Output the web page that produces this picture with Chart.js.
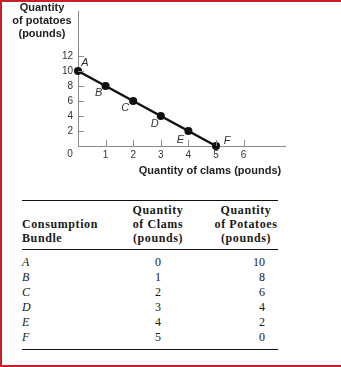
<!DOCTYPE html>
<html>
<head>
<meta charset="utf-8">
<script src="https://cdn.jsdelivr.net/npm/chart.js@4"></script>
<style>
  html, body { margin: 0; padding: 0; background: #fff; }
  body { width: 341px; height: 367px; position: relative; overflow: hidden; }
  #frame {
    position: absolute; left: 0; top: 0; width: 341px; height: 367px;
    box-sizing: border-box;
    border-top: 2px solid #c8202a; border-left: 2px solid #c8202a; border-bottom: 2px solid #c8202a;
    pointer-events: none; z-index: 2;
  }
  #grafico { position: absolute; left: 0; top: 0; }
  #tabela {
    position: absolute; left: 22px; top: 200px; width: 256px;
    border-collapse: collapse; table-layout: fixed;
    font-family: "Liberation Serif", "DejaVu Serif", serif; font-size: 12px; color: #1a1a1a;
    border-top: 1px solid #111; border-bottom: 1px solid #111;
  }
  #tabela th {
    font-weight: bold; line-height: 14px; letter-spacing: 0.6px; white-space: nowrap;
    padding: 2px 0 4px 0; border-bottom: 1px solid #111; vertical-align: bottom;
  }
  #tabela td { line-height: 15px; padding: 0; }
  #tabela tbody tr:first-child td { padding-top: 5px; }
  #tabela tbody tr:last-child td { padding-bottom: 4px; }
  .c1 { text-align: left; }
  .c2 { text-align: center; }
  .c3 { text-align: center; }
  #tabela th.c3 { padding-left: 20px; }
  #tabela td.c3 { text-align: right; padding-right: 13px; }
  td.c1 { font-style: italic; }
</style>
</head>
<body>
<div id="frame"></div>
<canvas id="grafico" width="341" height="190"></canvas>
<table id="tabela">
  <colgroup>
    <col style="width:100px">
    <col style="width:72px">
    <col style="width:84px">
  </colgroup>
  <thead>
    <tr>
      <th class="c1">Consumption<br>Bundle</th>
      <th class="c2">Quantity<br>of Clams<br>(pounds)</th>
      <th class="c3">Quantity<br>of Potatoes<br>(pounds)</th>
    </tr>
  </thead>
  <tbody id="linhas"></tbody>
</table>
<script>
// cestas de consumo
const bundles = ['A', 'B', 'C', 'D', 'E', 'F'];
const clams = [0, 1, 2, 3, 4, 5];
const potatoes = [10, 8, 6, 4, 2, 0];

// marcas dos eixos
const xTickValues = [1, 2, 3, 4, 5, 6];
const yTickValues = [2, 4, 6, 8, 10, 12];

// deslocamento (px) de cada letra em relação ao ponto
const letterShift = [[7, -8], [-7, 7], [-8, 7], [-6, 8], [-8, 9], [11, -5]];

// Preencher a tabela com os mesmos dados
const corpo = document.getElementById('linhas');
bundles.forEach((b, i) => {
    const tr = document.createElement('tr');
    [[b, 'c1'], [clams[i], 'c2'], [potatoes[i], 'c3']].forEach(([txt, cls]) => {
        const td = document.createElement('td');
        td.className = cls;
        td.textContent = txt;
        tr.appendChild(td);
    });
    corpo.appendChild(tr);
});

const axisGray = '#8a8a8a';

// marcas curtas para dentro, letras dos pontos e títulos dos eixos
const extras = {
    id: 'extras',
    afterDraw(chart) {
        const ctx = chart.ctx;
        const xs = chart.scales.x, ys = chart.scales.y;
        const x0 = xs.getPixelForValue(0), y0 = ys.getPixelForValue(0);
        ctx.save();
        ctx.strokeStyle = axisGray;
        ctx.lineWidth = 1;
        ctx.beginPath();
        yTickValues.forEach(v => {
            const py = Math.round(ys.getPixelForValue(v)) + 0.5;
            ctx.moveTo(x0, py); ctx.lineTo(x0 + 6, py);
        });
        xTickValues.forEach(v => {
            const px = Math.round(xs.getPixelForValue(v)) + 0.5;
            ctx.moveTo(px, y0); ctx.lineTo(px, y0 - 6);
        });
        ctx.stroke();

        // letras A-F
        ctx.fillStyle = '#333';
        ctx.font = 'italic 11px "Liberation Sans", Arial, sans-serif';
        ctx.textAlign = 'center';
        ctx.textBaseline = 'middle';
        const meta = chart.getDatasetMeta(0);
        meta.data.forEach((pt, i) => {
            ctx.fillText(bundles[i], pt.x + letterShift[i][0], pt.y + letterShift[i][1]);
        });

        // zero da origem
        ctx.font = '10px "Liberation Sans", Arial, sans-serif';
        ctx.fillStyle = '#333';
        ctx.fillText('0', x0 - 8, y0 + 8);

        // títulos
        ctx.fillStyle = '#222';
        ctx.font = 'bold 11px "Liberation Sans", Arial, sans-serif';
        ['Quantity', 'of potatoes', '(pounds)'].forEach((t, i) => {
            ctx.fillText(t, 42, 8 + i * 13);
        });
        ctx.fillText('Quantity of clams (pounds)', 210, y0 + 25);
        ctx.restore();
    }
};

new Chart(document.getElementById('grafico'), {
    type: 'scatter',
    data: {
        datasets: [{
            data: clams.map((c, i) => ({ x: c, y: potatoes[i] })),
            showLine: true,
            borderColor: '#111',
            backgroundColor: '#111',
            borderWidth: 2.5,
            pointRadius: 2.8,
            pointHoverRadius: 2.8,
            clip: false
        }]
    },
    options: {
        responsive: false,
        animation: false,
        layout: { padding: { top: 2, right: 56, bottom: 30, left: 0 } },
        plugins: { legend: { display: false }, tooltip: { enabled: false } },
        scales: {
            x: {
                type: 'linear',
                min: 0,
                max: 7.5,
                afterBuildTicks: s => { s.ticks = xTickValues.map(v => ({ value: v })); },
                afterFit: s => { s.height = 14; },
                grid: { display: false, drawTicks: false },
                border: { display: true, color: axisGray, width: 1 },
                ticks: {
                    padding: 3,
                    maxRotation: 0,
                    autoSkip: false,
                    color: '#333',
                    font: { family: '"Liberation Sans", Arial, sans-serif', size: 10 }
                }
            },
            y: {
                type: 'linear',
                min: 0,
                max: 18,
                afterBuildTicks: s => { s.ticks = yTickValues.map(v => ({ value: v })); },
                afterFit: s => { s.width = 78; },
                grid: { display: false, drawTicks: false },
                border: { display: true, color: axisGray, width: 1 },
                ticks: {
                    padding: 5,
                    autoSkip: false,
                    color: '#333',
                    font: { family: '"Liberation Sans", Arial, sans-serif', size: 10 }
                }
            }
        }
    },
    plugins: [extras]
});
</script>
</body>
</html>
